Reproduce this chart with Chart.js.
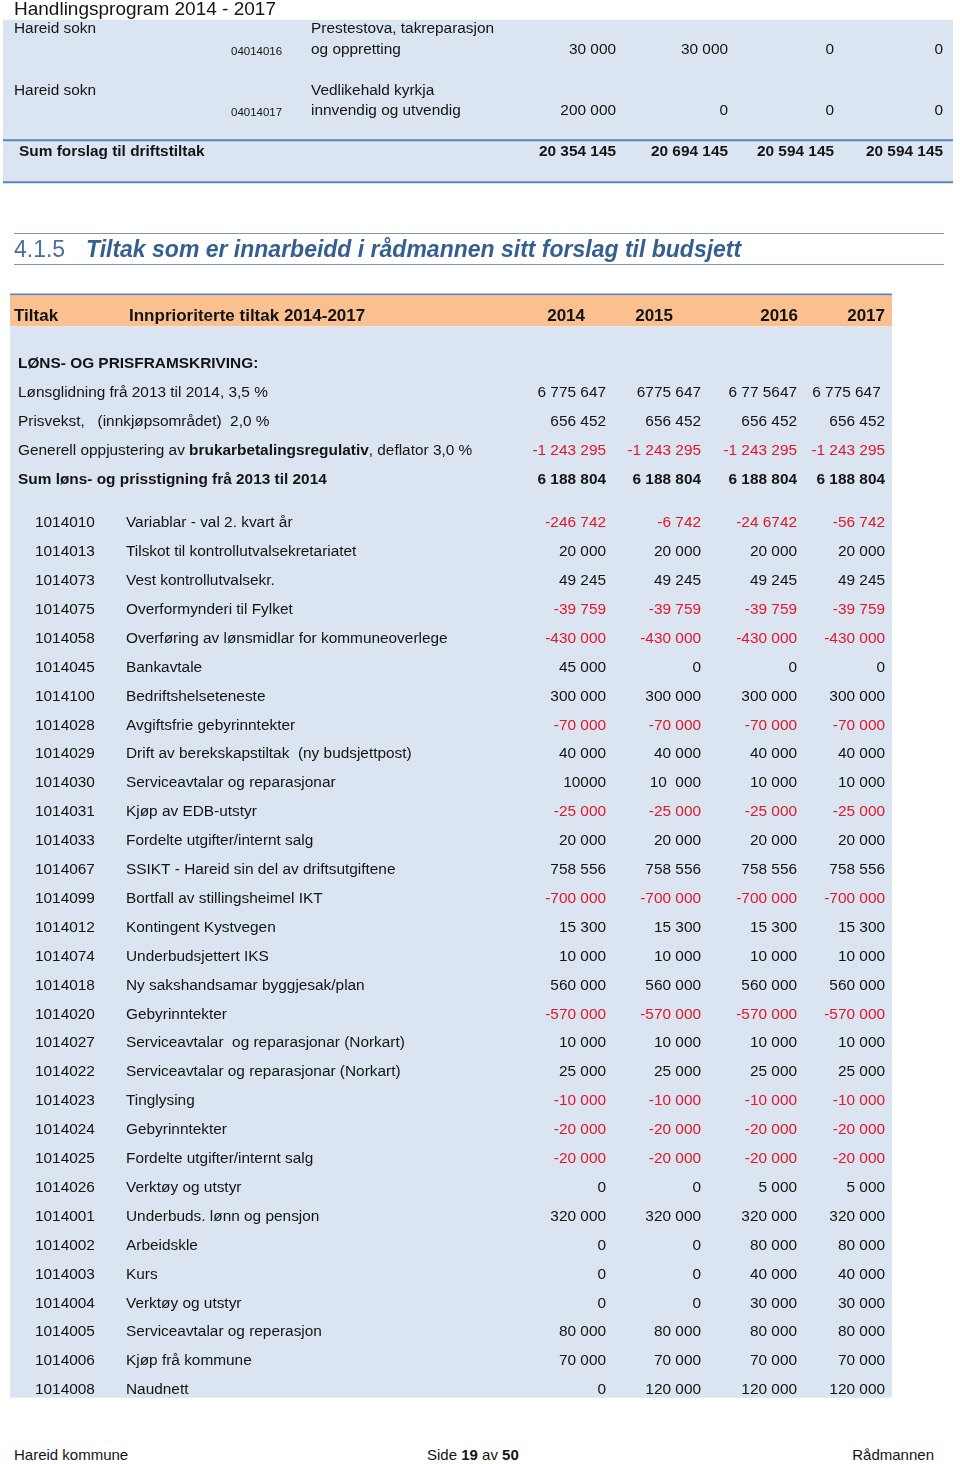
<!DOCTYPE html>
<html lang="nn">
<head>
<meta charset="utf-8">
<title>Handlingsprogram 2014 - 2017</title>
<script src="https://cdn.jsdelivr.net/npm/chart.js@4.4.1/dist/chart.umd.min.js"></script>
<style>
  html, body { margin: 0; padding: 0; background: #fff; }
  body { width: 960px; height: 1464px; position: relative; overflow: hidden;
         font-family: 'Liberation Sans', Arial, sans-serif; color: #141414; }
  canvas { position: absolute; left: 0; top: 0; }
  .abs { position: absolute; white-space: nowrap; z-index: 2; }
  #title { left: 14px; top: -1px; font-size: 19px; line-height: 20px; }
  .hd { top: 236px; font-size: 23px; line-height: 26px; color: #365f91; }
  #hnum { left: 14px; color: #4b6f9e; }
  #htext { left: 86px; font-weight: bold; font-style: italic; }
  .rule { position: absolute; left: 14px; width: 930px; height: 1px; background: #8196b4; }
  .foot { top: 1446px; font-size: 15px; line-height: 18px; }
</style>
</head>
<body>
<div id="title" class="abs">Handlingsprogram 2014 - 2017</div>

<canvas id="top" width="960" height="190"></canvas>

<div class="rule" style="top:233px"></div>
<div id="hnum" class="abs hd">4.1.5</div>
<div id="htext" class="abs hd">Tiltak som er innarbeidd i rådmannen sitt forslag til budsjett</div>
<div class="rule" style="top:264px"></div>

<canvas id="main" width="960" height="1410"></canvas>

<div class="abs foot" style="left:14px">Hareid kommune</div>
<div class="abs foot" style="left:427px">Side <b>19</b> av <b>50</b></div>
<div class="abs foot" style="right:26px">Rådmannen</div>

<script>
// slutten av tabellen frå førre side
const driftOwner = ["Hareid sokn", "Hareid sokn"];
const driftCode = ["04014016", "04014017"];
const driftText = [["Prestestova, takreparasjon", "og oppretting"],
                   ["Vedlikehald kyrkja", "innvendig og utvendig"]];
const drift2014 = ["30 000", "200 000"];
const drift2015 = ["30 000", "0"];
const drift2016 = ["0", "0"];
const drift2017 = ["0", "0"];
const driftSumLabel = "Sum forslag til driftstiltak";
const driftSum = ["20 354 145", "20 694 145", "20 594 145", "20 594 145"];

// 4.1.5
const headCols = ["Tiltak", "Innprioriterte tiltak 2014-2017"];
const years = ["2014", "2015", "2016", "2017"];

const lpLabels = [
  "**LØNS- OG PRISFRAMSKRIVING:**",
  "Lønsglidning frå 2013 til 2014, 3,5 %",
  "Prisvekst,   (innkjøpsområdet)  2,0 %",
  "Generell oppjustering av **brukarbetalingsregulativ**, deflator 3,0 %",
  "**Sum løns- og prisstigning frå 2013 til 2014**"
];
const lp2014 = ["", "6 775 647", "656 452", "-1 243 295", "6 188 804"];
const lp2015 = ["", "6775 647", "656 452", "-1 243 295", "6 188 804"];
const lp2016 = ["", "6 77 5647", "656 452", "-1 243 295", "6 188 804"];
const lp2017 = ["", "6 775 647 ", "656 452", "-1 243 295", "6 188 804"];

const itemCodes = [
  "1014010", "1014013", "1014073", "1014075", "1014058", "1014045", "1014100",
  "1014028", "1014029", "1014030", "1014031", "1014033", "1014067", "1014099",
  "1014012", "1014074", "1014018", "1014020", "1014027", "1014022", "1014023",
  "1014024", "1014025", "1014026", "1014001", "1014002", "1014003", "1014004",
  "1014005", "1014006", "1014008"
];
const itemNames = [
  "Variablar - val 2. kvart år",
  "Tilskot til kontrollutvalsekretariatet",
  "Vest kontrollutvalsekr.",
  "Overformynderi til Fylket",
  "Overføring av lønsmidlar for kommuneoverlege",
  "Bankavtale",
  "Bedriftshelseteneste",
  "Avgiftsfrie gebyrinntekter",
  "Drift av berekskapstiltak  (ny budsjettpost)",
  "Serviceavtalar og reparasjonar",
  "Kjøp av EDB-utstyr",
  "Fordelte utgifter/internt salg",
  "SSIKT - Hareid sin del av driftsutgiftene",
  "Bortfall av stillingsheimel IKT",
  "Kontingent Kystvegen",
  "Underbudsjettert IKS",
  "Ny sakshandsamar byggjesak/plan",
  "Gebyrinntekter",
  "Serviceavtalar  og reparasjonar (Norkart)",
  "Serviceavtalar og reparasjonar (Norkart)",
  "Tinglysing",
  "Gebyrinntekter",
  "Fordelte utgifter/internt salg",
  "Verktøy og utstyr",
  "Underbuds. lønn og pensjon",
  "Arbeidskle",
  "Kurs",
  "Verktøy og utstyr",
  "Serviceavtalar og reperasjon",
  "Kjøp frå kommune",
  "Naudnett"
];
const item2014 = [
  "-246 742", "20 000", "49 245", "-39 759", "-430 000", "45 000", "300 000",
  "-70 000", "40 000", "10000", "-25 000", "20 000", "758 556", "-700 000",
  "15 300", "10 000", "560 000", "-570 000", "10 000", "25 000", "-10 000",
  "-20 000", "-20 000", "0", "320 000", "0", "0", "0",
  "80 000", "70 000", "0"
];
const item2015 = [
  "-6 742", "20 000", "49 245", "-39 759", "-430 000", "0", "300 000",
  "-70 000", "40 000", "10  000", "-25 000", "20 000", "758 556", "-700 000",
  "15 300", "10 000", "560 000", "-570 000", "10 000", "25 000", "-10 000",
  "-20 000", "-20 000", "0", "320 000", "0", "0", "0",
  "80 000", "70 000", "120 000"
];
const item2016 = [
  "-24 6742", "20 000", "49 245", "-39 759", "-430 000", "0", "300 000",
  "-70 000", "40 000", "10 000", "-25 000", "20 000", "758 556", "-700 000",
  "15 300", "10 000", "560 000", "-570 000", "10 000", "25 000", "-10 000",
  "-20 000", "-20 000", "5 000", "320 000", "80 000", "40 000", "30 000",
  "80 000", "70 000", "120 000"
];
const item2017 = [
  "-56 742", "20 000", "49 245", "-39 759", "-430 000", "0", "300 000",
  "-70 000", "40 000", "10 000", "-25 000", "20 000", "758 556", "-700 000",
  "15 300", "10 000", "560 000", "-570 000", "10 000", "25 000", "-10 000",
  "-20 000", "-20 000", "5 000", "320 000", "80 000", "40 000", "30 000",
  "80 000", "70 000", "120 000"
];

const FONT = "'Liberation Sans', Arial, sans-serif";
const BLACK = "#141414";
const RED = "#e1162c";
const BLUE_BG = "#dbe5f1";
const ORANGE = "#fac08f";
const RULE = "#5a84b9";

function put(ctx, text, x, y, size, bold, align, color) {
  ctx.font = (bold ? "bold " : "") + size + "px " + FONT;
  ctx.textAlign = align || "left";
  ctx.fillStyle = color || (text.trim().startsWith("-") ? RED : BLACK);
  ctx.fillText(text, x, y);
}

// tekst med **feit** del
function putRich(ctx, text, x, y, size) {
  text.split("**").forEach((part, n) => {
    if (!part) return;
    put(ctx, part, x, y, size, n % 2 === 1, "left", BLACK);
    x += ctx.measureText(part).width;
  });
}

// rader (tekstlinjer) for kvar tabell, mellomrom som tomme linjer
const topSlots = [];
driftOwner.forEach((_, i) => topSlots.push({ kind: "name", i }, { kind: "vals", i }, { kind: "gap" }));
topSlots.push({ kind: "sum" }, { kind: "gap" });

const mainSlots = [{ kind: "pad" }, { kind: "head" }, { kind: "gap" }, { kind: "gap" }];
lpLabels.forEach((_, i) => { if (i) mainSlots.push({ kind: "gap" }); mainSlots.push({ kind: "lp", i }); });
mainSlots.push({ kind: "gap" }, { kind: "gap" });
itemCodes.forEach((_, i) => { if (i) mainSlots.push({ kind: "gap" }); mainSlots.push({ kind: "item", i }); });

function drawTop(chart) {
  const { ctx, chartArea: a, scales: { y } } = chart;
  const u = y.getPixelForValue(1) - y.getPixelForValue(0);
  const cols = [616, 728, 834, 943];
  ctx.save();
  ctx.fillStyle = BLUE_BG;
  ctx.fillRect(3, a.top + 1, 950, a.bottom - a.top - 1);
  ctx.fillStyle = RULE;
  const sumIdx = topSlots.findIndex(s => s.kind === "sum");
  ctx.fillRect(3, y.getPixelForValue(sumIdx) - u / 2 - 2.5, 950, 2);
  ctx.fillRect(3, a.bottom - 1.5, 950, 2);
  ctx.textBaseline = "middle";
  topSlots.forEach((s, k) => {
    const py = y.getPixelForValue(k);
    if (s.kind === "name") {
      put(ctx, driftOwner[s.i], 14, py, 15.4, false, "left", BLACK);
      put(ctx, driftText[s.i][0], 311, py, 15.4, false, "left", BLACK);
    } else if (s.kind === "vals") {
      put(ctx, driftCode[s.i], 231, py + 2, 11.5, false, "left", BLACK);
      put(ctx, driftText[s.i][1], 311, py, 15.4, false, "left", BLACK);
      [drift2014, drift2015, drift2016, drift2017].forEach((col, c) =>
        put(ctx, col[s.i], cols[c], py, 15.4, false, "right"));
    } else if (s.kind === "sum") {
      put(ctx, driftSumLabel, 19, py, 15.4, true, "left", BLACK);
      driftSum.forEach((v, c) => put(ctx, v, cols[c], py, 15.4, true, "right"));
    }
  });
  ctx.restore();
}

function drawMain(chart) {
  const { ctx, chartArea: a, scales: { y } } = chart;
  const u = y.getPixelForValue(1) - y.getPixelForValue(0);
  const headX = [585, 673, 798, 885];
  const cols = [606, 701, 797, 885];
  ctx.save();
  ctx.fillStyle = RULE;
  ctx.fillRect(10, a.top - 5.5, 882, 2);
  ctx.fillStyle = ORANGE;
  ctx.fillRect(10, a.top - 3.5, 882, 2 * u + 2);
  ctx.fillStyle = BLUE_BG;
  ctx.fillRect(10, a.top + 2 * u - 1.5, 882, a.bottom + 2 - a.top - 2 * u);
  ctx.textBaseline = "middle";
  mainSlots.forEach((s, k) => {
    const py = y.getPixelForValue(k);
    if (s.kind === "head") {
      put(ctx, headCols[0], 14, py - 4.5, 17, true, "left", BLACK);
      put(ctx, headCols[1], 129, py - 4.5, 17, true, "left", BLACK);
      years.forEach((yr, c) => put(ctx, yr, headX[c], py - 4.5, 17, true, "right", BLACK));
    } else if (s.kind === "lp") {
      putRich(ctx, lpLabels[s.i], 18, py, 15.4);
      const bold = s.i === lpLabels.length - 1;
      [lp2014, lp2015, lp2016, lp2017].forEach((col, c) => {
        if (col[s.i]) put(ctx, col[s.i], cols[c], py, 15.4, bold, "right");
      });
    } else if (s.kind === "item") {
      put(ctx, itemCodes[s.i], 35, py, 15.4, false, "left", BLACK);
      put(ctx, itemNames[s.i], 126, py, 15.4, false, "left", BLACK);
      [item2014, item2015, item2016, item2017].forEach((col, c) =>
        put(ctx, col[s.i], cols[c], py, 15.4, false, "right"));
    }
  });
  ctx.restore();
}

function tableChart(id, slots, padding, draw) {
  return new Chart(document.getElementById(id), {
    type: "bar",
    data: {
      labels: slots.map((s, k) => s.kind + k),
      datasets: [{ data: [] }]
    },
    options: {
      indexAxis: "y",
      responsive: false,
      animation: false,
      events: [],
      layout: { padding },
      plugins: { legend: { display: false }, tooltip: { enabled: false } },
      scales: {
        y: { type: "category", offset: true, display: false },
        x: { display: false, min: 0, max: 1 }
      }
    },
    plugins: [{ id: id + "Cells", beforeDatasetsDraw: draw }]
  });
}

tableChart("top", topSlots, { top: 18.75, bottom: 7.25, left: 0, right: 0 }, drawTop);
tableChart("main", mainSlots, { top: 299, bottom: 12.8, left: 0, right: 0 }, drawMain);
</script>
</body>
</html>
